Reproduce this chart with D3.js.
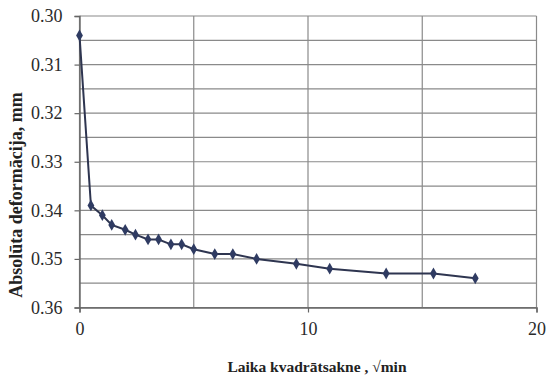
<!DOCTYPE html>
<html><head><meta charset="utf-8">
<script src="https://cdn.jsdelivr.net/npm/d3@7"></script>
<style>body{margin:0;background:#fff}</style></head>
<body><svg id="c" width="547" height="377"></svg>
<script>
const xValues = [0, 0.5, 1, 1.41, 2, 2.45, 3, 3.46, 4, 4.47, 5, 5.92, 6.71, 7.75, 9.49, 10.95, 13.42, 15.49, 17.32];
const yValues = [0.304, 0.339, 0.341, 0.343, 0.344, 0.345, 0.346, 0.346, 0.347, 0.347, 0.348, 0.349, 0.349, 0.350, 0.351, 0.352, 0.353, 0.353, 0.354];
const xTicks = [0, 10, 20];
const xGrid = [0, 5, 10, 15, 20];
const yTicks = [0.30, 0.31, 0.32, 0.33, 0.34, 0.35, 0.36];
const yGrid = [0.30, 0.305, 0.31, 0.315, 0.32, 0.325, 0.33, 0.335, 0.34, 0.345, 0.35, 0.355, 0.36];
const xTitle = "Laika kvadrātsakne , √min";
const yTitle = "Absolūta deformācija, mm";

const L = 79.5, R = 536.5, T = 16, B = 307.5;
const svg = d3.select("#c");
const x = d3.scaleLinear().domain([0, 20]).range([L, R]);
const y = d3.scaleLinear().domain([0.30, 0.36]).range([T, B]);
const font = "'Liberation Serif', 'Times New Roman', serif";
const gridC = "#8a8a8a";

// grid
svg.append("g").selectAll("line").data(yGrid).join("line")
  .attr("x1", L).attr("x2", R).attr("y1", d => y(d)).attr("y2", d => y(d))
  .attr("stroke", gridC).attr("stroke-width", 1.2);
svg.append("g").selectAll("line").data(xGrid).join("line")
  .attr("y1", T).attr("y2", B).attr("x1", d => x(d)).attr("x2", d => x(d))
  .attr("stroke", gridC).attr("stroke-width", 1.2);

// axes
const ya = svg.append("g").attr("transform", `translate(${L},0)`)
  .call(d3.axisLeft(y).tickValues(yTicks).tickFormat(d3.format(".2f")).tickSize(5).tickPadding(12));
const xa = svg.append("g").attr("transform", `translate(0,${B})`)
  .call(d3.axisBottom(x).tickValues(xTicks).tickFormat(d3.format("d")).tickSize(5).tickPadding(10));
[ya, xa].forEach(g => {
  g.attr("font-family", font).attr("font-size", 18);
  g.select(".domain").attr("stroke", "#666").attr("stroke-width", 1.4);
  g.selectAll(".tick line").attr("stroke", "#666").attr("stroke-width", 1.2);
  g.selectAll(".tick text").style("font-family", font).style("font-size", "18px").attr("fill", "#2a2a2a");
});

// line
const pts = xValues.map((v, i) => [v, yValues[i]]);
svg.append("path").datum(pts)
  .attr("d", d3.line().x(d => x(d[0])).y(d => y(d[1])).curve(d3.curveLinear))
  .attr("fill", "none").attr("stroke", "#2e3550").attr("stroke-width", 2);
svg.append("g").selectAll("path").data(pts).join("path")
  .attr("d", d3.symbol(d3.symbolDiamond, 40))
  .attr("transform", d => `translate(${x(d[0])},${y(d[1])})`)
  .attr("fill", "#2f3b62");

// titles
svg.append("text").attr("x", 317).attr("y", 372).attr("text-anchor", "middle")
  .style("font-family", font).attr("font-weight", "bold").style("font-size", "15.5px").attr("fill", "#222").text(xTitle);
svg.append("text").attr("transform", "translate(22,195) rotate(-90)").attr("text-anchor", "middle")
  .style("font-family", font).attr("font-weight", "bold").style("font-size", "18px").attr("fill", "#222").text(yTitle);
</script></body></html>
